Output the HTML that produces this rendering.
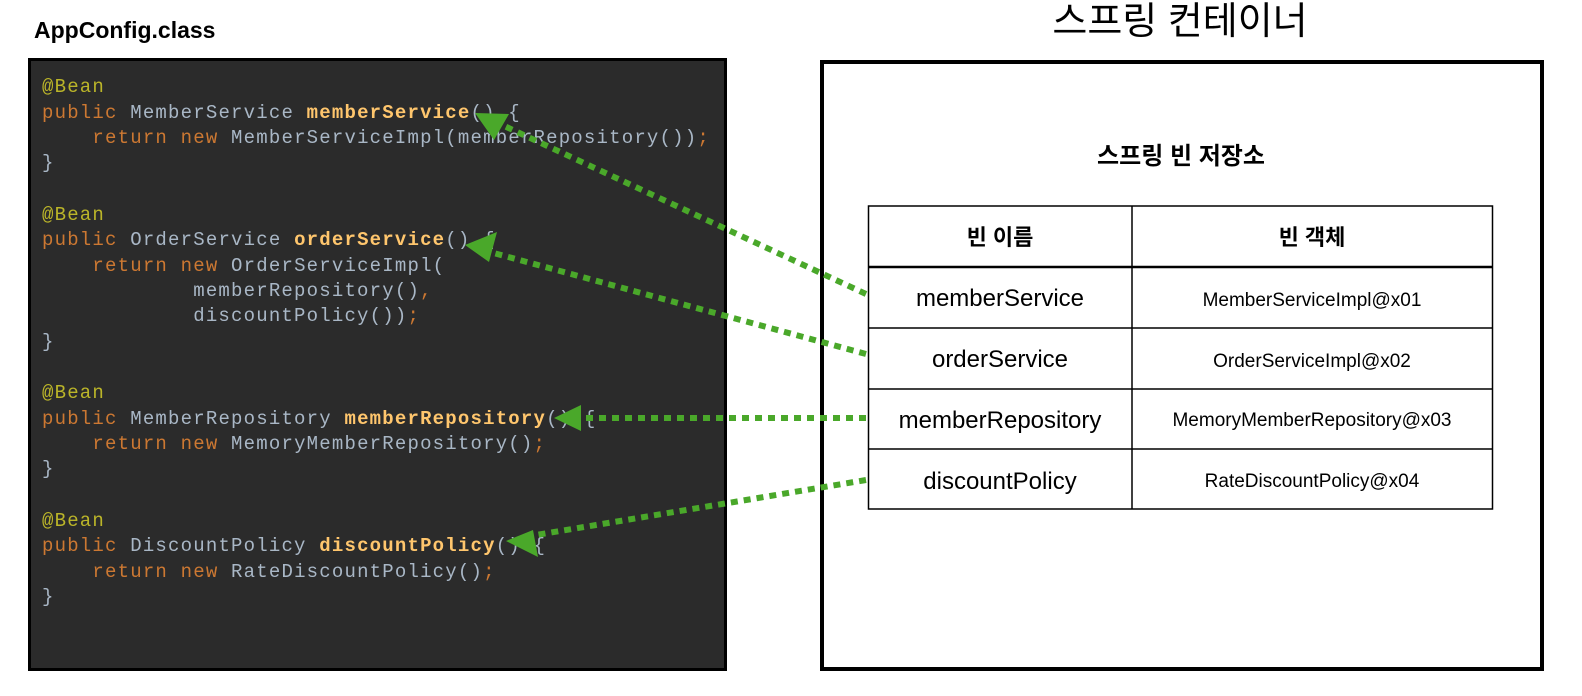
<!DOCTYPE html>
<html><head><meta charset="utf-8"><style>
html,body{margin:0;padding:0;background:#fff;width:1582px;height:696px;overflow:hidden}
svg{display:block}
.c{font-family:"Liberation Mono",monospace;font-size:19px;letter-spacing:1.2px;fill:#a9b7c6;white-space:pre}
.k{fill:#cc7832}.a{fill:#bbb529}.f{fill:#ffc66d;font-weight:bold}
.kr{font-family:"Liberation Sans","Noto Sans CJK KR",sans-serif}
</style></head><body>
<svg width="1582" height="696" viewBox="0 0 1582 696" xmlns="http://www.w3.org/2000/svg">
<text x="34" y="38" class="kr" font-size="23" font-weight="bold" fill="#000">AppConfig.class</text>
<rect x="29.5" y="59.5" width="696" height="610" fill="#2b2b2b" stroke="#000" stroke-width="3"/>
<g class="c" xml:space="preserve">
<text x="42" y="92" class="c"><tspan class="a">@Bean</tspan></text>
<text x="42" y="118" class="c"><tspan class="k">public</tspan> MemberService <tspan class="f">memberService</tspan>() {</text>
<text x="42" y="143" class="c">    <tspan class="k">return new</tspan> MemberServiceImpl(memberRepository())<tspan class="k">;</tspan></text>
<text x="42" y="168" class="c">}</text>
<text x="42" y="220" class="c"><tspan class="a">@Bean</tspan></text>
<text x="42" y="245" class="c"><tspan class="k">public</tspan> OrderService <tspan class="f">orderService</tspan>() {</text>
<text x="42" y="271" class="c">    <tspan class="k">return new</tspan> OrderServiceImpl(</text>
<text x="42" y="296" class="c">            memberRepository()<tspan class="k">,</tspan></text>
<text x="42" y="321" class="c">            discountPolicy())<tspan class="k">;</tspan></text>
<text x="42" y="347" class="c">}</text>
<text x="42" y="398" class="c"><tspan class="a">@Bean</tspan></text>
<text x="42" y="424" class="c"><tspan class="k">public</tspan> MemberRepository <tspan class="f">memberRepository</tspan>() {</text>
<text x="42" y="449" class="c">    <tspan class="k">return new</tspan> MemoryMemberRepository()<tspan class="k">;</tspan></text>
<text x="42" y="474" class="c">}</text>
<text x="42" y="526" class="c"><tspan class="a">@Bean</tspan></text>
<text x="42" y="551" class="c"><tspan class="k">public</tspan> DiscountPolicy <tspan class="f">discountPolicy</tspan>() {</text>
<text x="42" y="577" class="c">    <tspan class="k">return new</tspan> RateDiscountPolicy()<tspan class="k">;</tspan></text>
<text x="42" y="602" class="c">}</text>
</g>
<text x="1180" y="34" class="kr" font-size="38" text-anchor="middle" fill="#000">스프링 컨테이너</text>
<rect x="822" y="62" width="720" height="607" fill="none" stroke="#000" stroke-width="4"/>
<text x="1181" y="164" class="kr" font-size="24" font-weight="bold" text-anchor="middle" fill="#000">스프링 빈 저장소</text>
<g stroke="#000" stroke-width="1.5" fill="#fff">
<rect x="868.5" y="206" width="624" height="303"/>
<line x1="1132" y1="206" x2="1132" y2="509"/>
<line x1="868" y1="267" x2="1493" y2="267" stroke-width="2.5"/>
<line x1="868" y1="328" x2="1493" y2="328"/>
<line x1="868" y1="389" x2="1493" y2="389"/>
<line x1="868" y1="449" x2="1493" y2="449"/>
</g>
<g class="kr" text-anchor="middle" fill="#000">
<text x="1000" y="245" font-size="22" font-weight="bold">빈 이름</text>
<text x="1312" y="245" font-size="22" font-weight="bold">빈 객체</text>
<text x="1000" y="306" font-size="24">memberService</text>
<text x="1000" y="367" font-size="24">orderService</text>
<text x="1000" y="428" font-size="24">memberRepository</text>
<text x="1000" y="489" font-size="24">discountPolicy</text>
<text x="1312" y="306" font-size="19">MemberServiceImpl@x01</text>
<text x="1312" y="367" font-size="19">OrderServiceImpl@x02</text>
<text x="1312" y="426" font-size="19">MemoryMemberRepository@x03</text>
<text x="1312" y="487" font-size="19">RateDiscountPolicy@x04</text>
</g>
<g stroke="#4aa82a" stroke-width="6" stroke-dasharray="7 6" fill="none">
<line x1="866" y1="294" x2="500" y2="124"/>
<line x1="866" y1="354" x2="490" y2="252"/>
<line x1="866" y1="418" x2="580" y2="418"/>
<line x1="866" y1="480" x2="530" y2="536"/>
</g>
<g fill="#4aa82a">
<polygon points="475,113 509,114 494,140"/>
<polygon points="465,245 497,232 489,262"/>
<polygon points="554,418 581,405 581,431"/>
<polygon points="506,541 533,530 538,557"/>
</g>
</svg>
</body></html>
